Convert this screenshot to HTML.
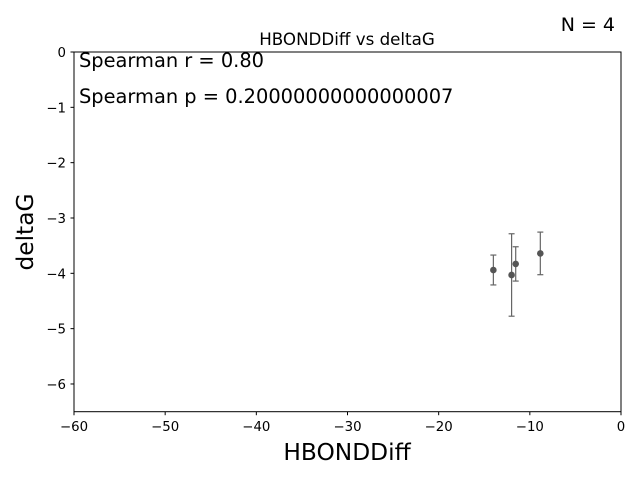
<!DOCTYPE html>
<html><head><meta charset="utf-8"><style>
body{margin:0;background:#fff;font-family:"DejaVu Sans","Liberation Sans",sans-serif;}
</style></head><body>
<svg id="chart" width="640" height="480" xmlns="http://www.w3.org/2000/svg" font-family="DejaVu Sans, Liberation Sans, sans-serif">
<rect x="74" y="52" width="547" height="359.7" fill="none" stroke="#000" stroke-width="1"/>
<g id="xticks"></g>
<g id="yticks"></g>
<g id="marks"></g>
<text x="347" y="45" text-anchor="middle" font-size="16.7">HBONDDiff vs deltaG</text>
<text x="615" y="31" text-anchor="end" font-size="19">N = 4</text>
<text x="79" y="67" font-size="19.4">Spearman r = 0.80</text>
<text x="79" y="103" font-size="19.4">Spearman p = 0.20000000000000007</text>
<text x="347" y="460" text-anchor="middle" font-size="23.3">HBONDDiff</text>
<text transform="translate(33,232) rotate(-90)" text-anchor="middle" font-size="23.3">deltaG</text>
</svg>
<script>
const xVals=[-14.0,-12.0,-11.55,-8.85];
const yVals=[-3.94,-4.03,-3.83,-3.64];
const yErr=[0.27,0.745,0.31,0.385];
const xTickVals=[-60,-50,-40,-30,-20,-10,0];
const yTickVals=[0,-1,-2,-3,-4,-5,-6];
const NS="http://www.w3.org/2000/svg";
const X=v=>74+(v+60)/60*547;
const Y=v=>52-v*55.33;
function mk(t,a,p){const e=document.createElementNS(NS,t);for(const k in a)e.setAttribute(k,a[k]);p.appendChild(e);return e;}
const gx=document.getElementById('xticks'),gy=document.getElementById('yticks'),gm=document.getElementById('marks');
xTickVals.forEach(v=>{const x=X(v);
 const l=mk('line',{x1:x,x2:x,y1:411.7,y2:415.2,stroke:'#000'},gx);
 
 
 const t=mk('text',{x:x,y:431,'text-anchor':'middle','font-size':'13.3'},gx);t.textContent=String(v).replace('-','\u2212');
 
 });
yTickVals.forEach(v=>{const y=Y(v);
 const l=mk('line',{x1:70.5,x2:74,y1:y,y2:y,stroke:'#000'},gy);
 
 
 const t=mk('text',{x:66,y:y+5,'text-anchor':'end','font-size':'13.3'},gy);t.textContent=String(v).replace('-','\u2212');
 
 });
xVals.forEach((xv,i)=>{const x=X(xv),y=Y(yVals[i]),t=Y(yVals[i]+yErr[i]),b=Y(yVals[i]-yErr[i]);
 const g=mk('g',{stroke:'#666','stroke-width':'1.2'},gm);
 
 
 mk('line',{x1:x,x2:x,y1:t,y2:b},g);mk('line',{x1:x-3,x2:x+3,y1:t,y2:t},g);mk('line',{x1:x-3,x2:x+3,y1:b,y2:b},g);
 const c=mk('circle',{cx:x,cy:y,r:3.3,fill:'#555'},gm);
 
 });
</script>
</body></html>
